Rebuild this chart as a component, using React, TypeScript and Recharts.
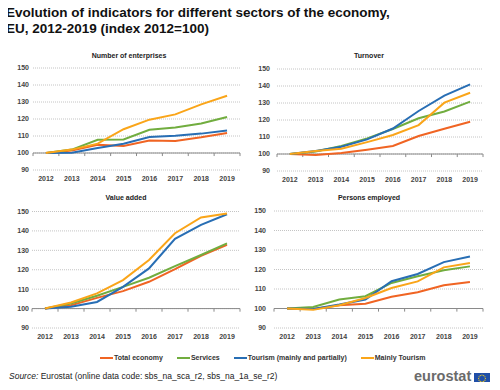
import React from 'react';
import { LineChart, Line, XAxis, YAxis, CartesianGrid, ReferenceLine } from 'recharts';

const YEARS = [2012, 2013, 2014, 2015, 2016, 2017, 2018, 2019];
const Y_TICKS = [90, 100, 110, 120, 130, 140, 150];

// Number of enterprises
const ENT_TOTAL = [100, 101.5, 104.9, 104.1, 107.4, 107.0, 109.2, 111.8];
const ENT_SERVICES = [100, 102.0, 107.8, 108.0, 113.7, 115.0, 117.3, 121.2];
const ENT_TOURISM = [100, 100.2, 103.0, 105.5, 109.4, 110.2, 111.4, 113.3];
const ENT_MAINLY = [100, 102.0, 105.5, 114.0, 119.6, 122.7, 128.6, 133.7];

// Turnover
const TURN_TOTAL = [100, 99.4, 100.6, 102.5, 104.7, 110.6, 114.9, 119.0];
const TURN_SERVICES = [100, 101.5, 104.7, 109.2, 114.7, 121.0, 125.0, 130.8];
const TURN_TOURISM = [100, 101.8, 104.3, 108.6, 115.0, 125.3, 134.3, 141.0];
const TURN_MAINLY = [100, 101.7, 103.1, 107.0, 111.2, 117.0, 130.2, 136.0];

// Value added
const VA_TOTAL = [100, 101.7, 105.5, 109.0, 113.8, 120.3, 127.2, 132.8];
const VA_SERVICES = [100, 102.6, 106.6, 111.2, 115.9, 121.9, 127.6, 133.6];
const VA_TOURISM = [100, 100.9, 103.4, 111.2, 120.7, 135.9, 143.1, 148.6];
const VA_MAINLY = [100, 103.1, 107.8, 114.7, 125.0, 138.8, 146.9, 149.0];

// Persons employed
const EMP_TOTAL = [100, 99.7, 101.7, 102.4, 106.0, 108.3, 111.9, 113.6];
const EMP_SERVICES = [100, 100.8, 104.6, 106.3, 113.1, 116.5, 119.6, 121.6];
const EMP_TOURISM = [100, 99.8, 102.0, 104.6, 114.0, 117.7, 123.8, 126.7];
const EMP_MAINLY = [100, 99.3, 101.7, 105.4, 110.5, 113.9, 121.1, 123.3];

const SERIES = [
    { key: 'total', name: 'Total economy', color: '#F06423' },
    { key: 'services', name: 'Services', color: '#71AD3F' },
    { key: 'tourism', name: 'Tourism (mainly and partially)', color: '#286EB4' },
    { key: 'mainly', name: 'Mainly Tourism', color: '#FAA519' },
];

const FONT = '"Liberation Sans", Arial, sans-serif';
const BOUNDS = [2011.5, 2012.5, 2013.5, 2014.5, 2015.5, 2016.5, 2017.5, 2018.5, 2019.5];

const build = (a: number[], b: number[], c: number[], d: number[]) =>
    YEARS.map((year, i) => ({ year, total: a[i], services: b[i], tourism: c[i], mainly: d[i] }));

const tickStyle = { fill: '#444', fontSize: 7, fontWeight: 'bold' as const, fontFamily: FONT };

type PanelProps = {
    title: string;
    data: any[];
    left: number;
    top: number;
    height: number;
    marginTop: number;
    marginRight: number;
    yWidth: number;
    yGap: number;
    titleX: number;
    titleY: number;
    tickLen: number;
};

const Panel = (p: PanelProps) => (
    <>
        <div style={{ position: 'absolute', left: p.titleX - 60, top: p.titleY - 5, width: 120, textAlign: 'center', fontFamily: FONT, fontSize: 7, fontWeight: 'bold', color: '#222', lineHeight: '10px' }}>
            {p.title}
        </div>
        <div style={{ position: 'absolute', left: p.left, top: p.top }}>
            <LineChart width={250} height={p.height} data={p.data} margin={{ top: p.marginTop, right: p.marginRight, bottom: 0, left: 0 }}>
                <CartesianGrid vertical={false} stroke="#c4c4c4" strokeDasharray="1 1" />
                <XAxis type="number" dataKey="year" domain={[2011.5, 2019.5]} ticks={YEARS} interval={0}
                    axisLine={false} tickLine={false} tickSize={0} tickMargin={6} height={20} tick={tickStyle} />
                <YAxis domain={[90, 150]} ticks={Y_TICKS} interval={0} width={p.yWidth}
                    axisLine={false} tickLine={false} tickSize={0} tickMargin={p.yGap} tick={tickStyle} />
                <ReferenceLine y={100} stroke="#8a8a8a" strokeWidth={1} />
                {BOUNDS.map((b) => (
                    <ReferenceLine key={b} segment={[{ x: b, y: 100 }, { x: b, y: 100 - p.tickLen }]} stroke="#8a8a8a" strokeWidth={1} />
                ))}
                {SERIES.map((s) => (
                    <Line key={s.key} dataKey={s.key} name={s.name} stroke={s.color} strokeWidth={2}
                        dot={false} isAnimationActive={false} type="linear" />
                ))}
            </LineChart>
        </div>
    </>
);

const EuFlag = () => (
    <svg width={16} height={11} style={{ position: 'absolute', left: 474, top: 373 }}>
        <rect width={16} height={11} fill="#1F4FA8" />
        {Array.from({ length: 12 }).map((_, i) => {
            const a = (i / 12) * Math.PI * 2;
            return <circle key={i} cx={8 + Math.cos(a) * 3.4} cy={5.5 + Math.sin(a) * 3.4} r={0.6} fill="#FFD617" />;
        })}
    </svg>
);

const App = () => {
    return (
        <div style={{ position: 'relative', width: 500, height: 390, margin: -8, background: '#fff', fontFamily: FONT, overflow: 'hidden' }}>
            <div style={{ position: 'absolute', left: 6, top: 5, fontSize: 13.5, fontWeight: 'bold', color: '#111', lineHeight: '16px', whiteSpace: 'nowrap' }}>
                Evolution of indicators for different sectors of the economy,<br />
                EU, 2012-2019 (index 2012=100)
            </div>

            <Panel title="Number of enterprises" data={build(ENT_TOTAL, ENT_SERVICES, ENT_TOURISM, ENT_MAINLY)}
                left={0} top={60} height={130} marginTop={8} marginRight={10} yWidth={33} yGap={4}
                titleX={129} titleY={56} tickLen={1.8} />
            <Panel title="Turnover" data={build(TURN_TOTAL, TURN_SERVICES, TURN_TOURISM, TURN_MAINLY)}
                left={250} top={60} height={131} marginTop={9} marginRight={17} yWidth={27} yGap={7}
                titleX={369} titleY={56} tickLen={1.8} />
            <Panel title="Value added" data={build(VA_TOTAL, VA_SERVICES, VA_TOURISM, VA_MAINLY)}
                left={0} top={200} height={148} marginTop={11.5} marginRight={10} yWidth={32} yGap={3}
                titleX={126} titleY={198} tickLen={1.6} />
            <Panel title="Persons employed" data={build(EMP_TOTAL, EMP_SERVICES, EMP_TOURISM, EMP_MAINLY)}
                left={250} top={200} height={148} marginTop={11} marginRight={17} yWidth={24} yGap={8}
                titleX={369} titleY={198} tickLen={1.6} />

            <div style={{ position: 'absolute', left: 100, top: 354, display: 'flex', gap: 14, alignItems: 'center', fontSize: 7, fontWeight: 'bold', color: '#333', whiteSpace: 'nowrap' }}>
                {SERIES.map((s) => (
                    <div key={s.key} style={{ display: 'flex', alignItems: 'center', gap: 1 }}>
                        <div style={{ width: 13, height: 2, background: s.color }} />
                        <span>{s.name}</span>
                    </div>
                ))}
            </div>

            <div style={{ position: 'absolute', left: 9, top: 371, fontSize: 8.5, lineHeight: '11px', color: '#222', whiteSpace: 'nowrap' }}>
                <i>Source:</i> Eurostat (online data code: sbs_na_sca_r2, sbs_na_1a_se_r2)
            </div>
            <div style={{ position: 'absolute', left: 414, top: 368, fontSize: 14.5, lineHeight: '16px', fontWeight: 'bold', color: '#6b6b6b' }}>
                eurostat
            </div>
            <EuFlag />
        </div>
    );
};

export default App;
